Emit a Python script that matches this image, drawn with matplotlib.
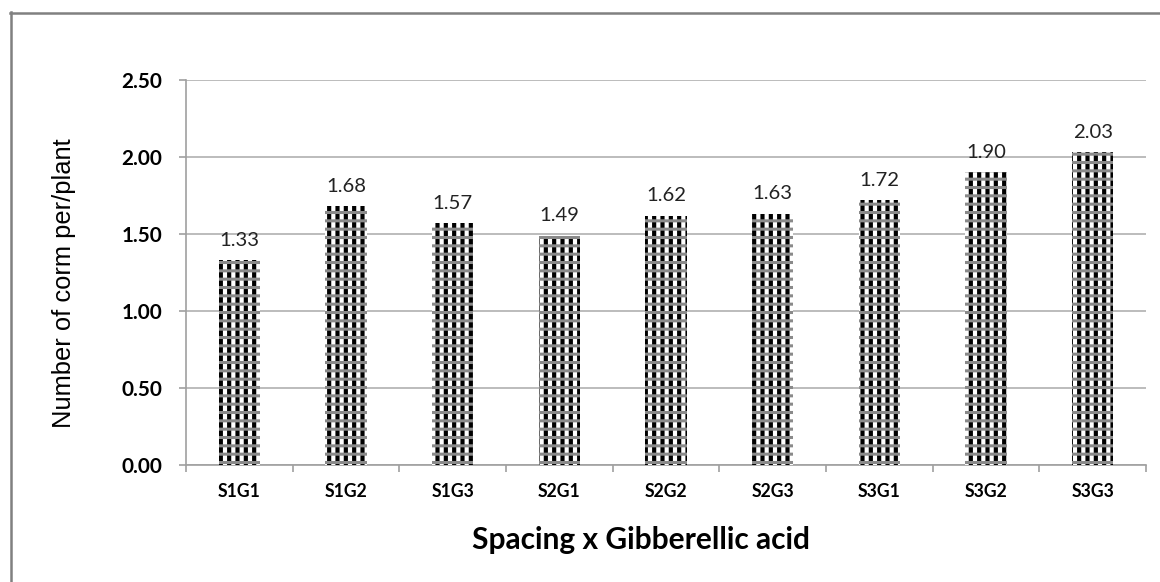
import matplotlib
matplotlib.use("Agg")
import matplotlib.pyplot as plt
from matplotlib.lines import Line2D
import numpy as np

categories = ["S1G1", "S1G2", "S1G3", "S2G1", "S2G2", "S2G3", "S3G1", "S3G2", "S3G3"]
values = [1.33, 1.68, 1.57, 1.49, 1.62, 1.63, 1.72, 1.90, 2.03]
labels = ["1.33", "1.68", "1.57", "1.49", "1.62", "1.63", "1.72", "1.90", "2.03"]
yticks = [0.0, 0.5, 1.0, 1.5, 2.0, 2.5]

W, H = 1160, 582
fig = plt.figure(figsize=(W / 100, H / 100), dpi=100)
ax = fig.add_axes([186 / W, 1 - 465 / H, (1146 - 186) / W, (465 - 80) / H])
renderer = fig.canvas.get_renderer()


def fit(txt, target, vertical=False):
    for _ in range(3):
        bb = txt.get_window_extent(renderer=renderer)
        cur = bb.height if vertical else bb.width
        txt.set_fontsize(txt.get_fontsize() * target / cur)
    return txt.get_fontsize()


x = np.arange(len(categories))
bw = 0.39

plt.rcParams['hatch.linewidth'] = 3.0
ax.bar(x, values, width=bw, color="white", edgecolor="black", linewidth=0, hatch="||", zorder=3)
plt.rcParams['hatch.linewidth'] = 2.2
ax.bar(x, values, width=bw, color="none", edgecolor="#8a8a8a", linewidth=0, hatch="--", zorder=4)

# data labels: fit size on one sample
probe = fig.text(0, 0, "2.03", family="Lato", fontsize=12)
dsize = fit(probe, 40)
probe.remove()
for xi, v, lab in zip(x, values, labels):
    ax.annotate(lab, (xi, v), xytext=(0, 20 * 0.72), textcoords="offset points",
                ha="center", va="center", fontsize=dsize, family="Lato", color="#222222")

ax.set_xlim(-0.5, len(categories) - 0.5)
ax.set_ylim(0, 2.5)

probe = fig.text(0, 0, "2.50", family="Lato", fontweight="bold", fontsize=12)
ysize = fit(probe, 41)
probe.remove()
probe = fig.text(0, 0, "S1G1", family="Lato", fontweight="bold", fontsize=12)
xsize = fit(probe, 43)
probe.remove()

ax.set_yticks(yticks)
ax.set_yticklabels([f"{t:.2f}" for t in yticks], fontsize=ysize, fontweight="bold", family="Lato")
ax.set_xticks(x)
ax.set_xticklabels(categories, fontsize=xsize, fontweight="bold", family="Lato")
ax.set_xticks(np.arange(len(categories) + 1) - 0.5, minor=True)
ax.tick_params(axis="x", which="major", length=0, pad=13)
ax.tick_params(axis="x", which="minor", length=5, color="#a0a0a0", width=1.2)
ax.tick_params(axis="y", which="major", length=5, color="#a0a0a0", width=1.2, pad=12)

ax.yaxis.grid(True, color="#b0b0b0", linewidth=1.2)
ax.set_axisbelow(True)
for s in ["top", "right"]:
    ax.spines[s].set_visible(False)
for s in ["left", "bottom"]:
    ax.spines[s].set_color("#a0a0a0")
    ax.spines[s].set_linewidth(1.2)

t1 = fig.text(641 / W, 1 - 540 / H, "Spacing x Gibberellic acid", ha="center", va="center",
              fontsize=18, fontweight="bold", family="Lato")
fit(t1, 338)
t2 = fig.text(64 / W, 1 - 283 / H, "Number of corm per/plant", ha="center", va="center",
              rotation=90, fontsize=16, family="Liberation Sans")
fit(t2, 289, vertical=True)

fig.add_artist(Line2D([10.5 / W, 10.5 / W], [0, 1 - 12 / H], color="#808080", linewidth=1.8,
                      transform=fig.transFigure))
fig.add_artist(Line2D([10 / W, 1], [1 - 12.5 / H, 1 - 12.5 / H], color="#808080", linewidth=1.8,
                      transform=fig.transFigure))

fig.savefig("out.png", dpi=100, facecolor="white")
